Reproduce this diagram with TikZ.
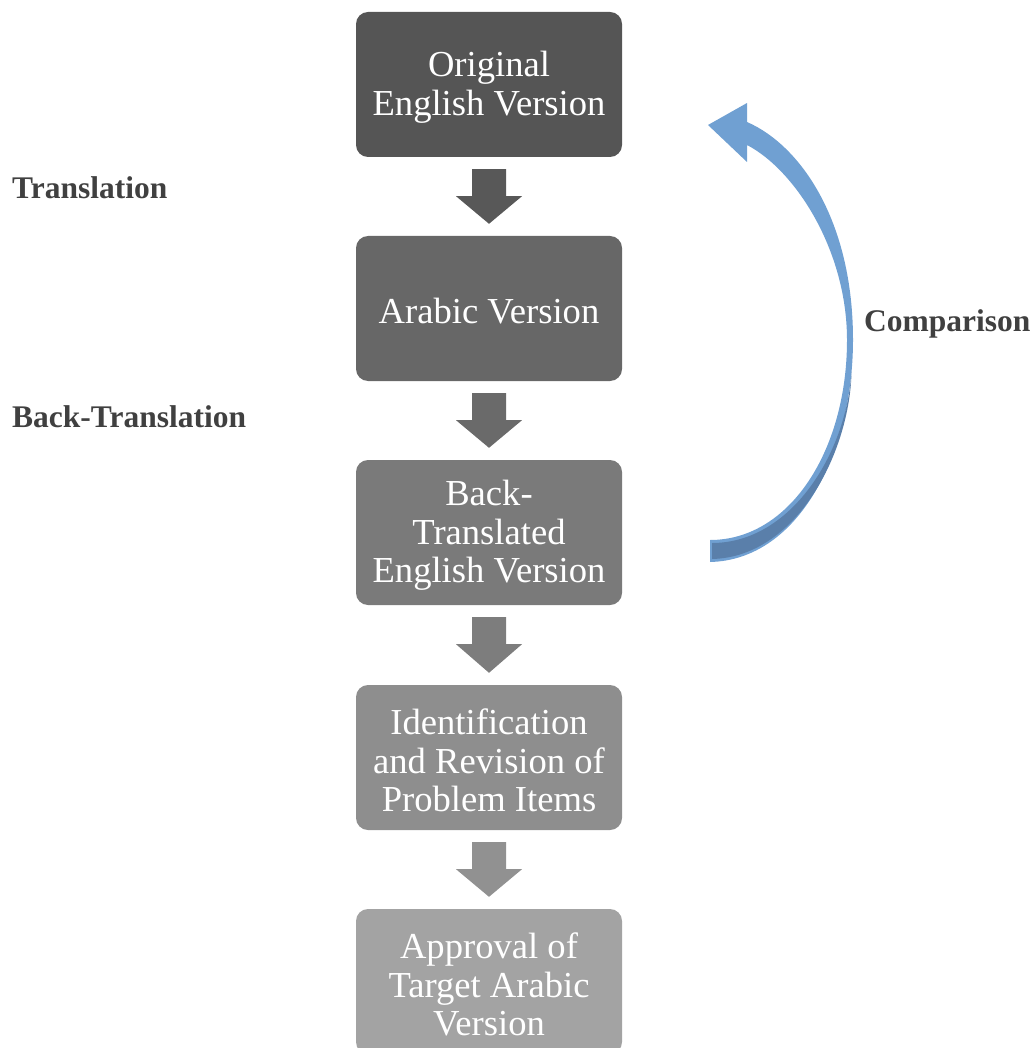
\documentclass[tikz,border=0pt]{standalone}
\usepackage{fontspec}
\setmainfont{Liberation Serif}
\usetikzlibrary{calc}
\definecolor{boxA}{HTML}{555555}
\definecolor{boxB}{HTML}{676767}
\definecolor{boxC}{HTML}{7A7A7A}
\definecolor{boxD}{HTML}{8E8E8E}
\definecolor{boxE}{HTML}{A3A3A3}
\definecolor{labelgray}{HTML}{404040}
\definecolor{cmpLight}{HTML}{70A0D2}
\definecolor{cmpDark}{HTML}{5A7FAA}
% downward block arrow between two stacked stage boxes
\newcommand{\blockdown}[3]{%
  \fill[#3] ($(#1.south)+(-17,12)$) -- ($(#1.south)+(17,12)$) --
    ($(#1.south)+(17,39)$) -- ($(#1.south)+(33,39)$) --
    ($(#2.north)+(0,-12)$) --
    ($(#1.south)+(-33,39)$) -- ($(#1.south)+(-17,39)$) -- cycle;}
\begin{document}
\begin{tikzpicture}[x=1pt,y=-1pt,
  stage/.style={rounded corners=12pt, minimum width=266pt, minimum height=145pt,
    inner sep=0pt},
  stagetext/.style={inner sep=0pt, text=white, align=center,
    font=\fontsize{36.6}{38.5}\selectfont},
  steplabel/.style={anchor=base west, text=labelgray, inner sep=0pt,
    font=\bfseries\fontsize{31.5}{36}\selectfont}]
\useasboundingbox (0,0) rectangle (1035,1048);

% process stages
\node[stage, fill=boxA] (orig) at (489,84.5) {};
\node[stage, fill=boxB] (arab) at (489,308.5) {};
\node[stage, fill=boxC] (back) at (489,532.5) {};
\node[stage, fill=boxD] (rev)  at (489,757.5) {};
\node[stage, fill=boxE] (appr) at (489,981.5) {};

% stage captions, set a little below the box centres
\node[stagetext] (origt) at ($(orig)+(0,3)$) {Original\\English Version};
\node[stagetext] (arabt) at ($(arab)+(0,3)$) {Arabic Version};
\node[stagetext] (backt) at ($(back)+(0,3)$) {Back-\\Translated\\English Version};
\node[stagetext] (revt)  at ($(rev)+(0,3)$)  {Identification\\and Revision of\\Problem Items};
\node[stagetext] (apprt) at ($(appr)+(0,3)$) {Approval of\\Target Arabic\\Version};

% block arrows between stages
\blockdown{orig}{arab}{boxA!85!boxB}
\blockdown{arab}{back}{boxB!85!boxC}
\blockdown{back}{rev}{boxC!85!boxD}
\blockdown{rev}{appr}{boxD!85!boxE}

% step labels
\node[steplabel] (ltrans) at (12,199) {Translation};
\node[steplabel] (lback)  at (12,427) {Back-Translation};
\node[steplabel] (lcomp)  at (864,331) {Comparison};

% curved comparison arrow from the back-translation to the original
\fill[cmpLight] (710,562) .. controls (800,560) and (853,450) .. (853,340)
  .. controls (853,220) and (800,145) .. (747,122)
  -- (747,103) -- (708,125) -- (747,162) -- (747,145)
  .. controls (795,170) and (847,250) .. (847,340)
  .. controls (847,450) and (790,540) .. (710,540) -- cycle;
\fill[cmpDark] (712,559) .. controls (798,557) and (850,450) .. (851.5,372)
  .. controls (846,455) and (790,543) .. (712,543) -- cycle;
\end{tikzpicture}
\end{document}
